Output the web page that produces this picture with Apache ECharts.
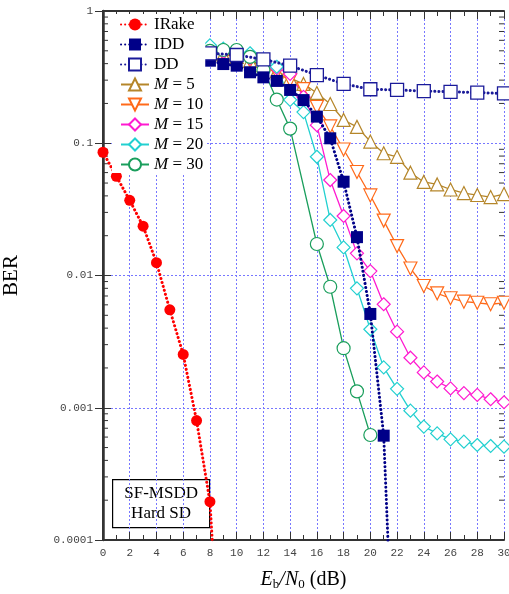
<!DOCTYPE html>
<html>
<head>
<meta charset="utf-8">
<script src="https://cdn.jsdelivr.net/npm/echarts@6/dist/echarts.min.js"></script>
<style>
  html, body { margin: 0; padding: 0; background: #fff; }
  #chart { width: 509px; height: 594px; }
</style>
</head>
<body>
<div id="chart"></div>
<script>
// values
const seriesNames = ['IRake', 'IDD', 'DD', 'M = 5', 'M = 10', 'M = 15', 'M = 20', 'M = 30'];

const xIRake = [0, 1, 2, 3, 4, 5, 6, 7, 8, 9];
const berIRake = [0.0855, 0.0562, 0.037, 0.0236, 0.0125, 0.0055, 0.00253, 0.0008, 0.000195, 0.000004];

const xIDD = [8, 9, 10, 11, 12, 13, 14, 15, 16, 17, 18, 19, 20, 21, 22];
const berIDD = [0.421, 0.397, 0.386, 0.344, 0.315, 0.296, 0.253, 0.212, 0.159, 0.109, 0.0512, 0.0195, 0.00512, 0.000615, 0.000002];

const xDD = [8, 10, 12, 14, 16, 18, 20, 22, 24, 26, 28, 30];
const berDD = [0.479, 0.465, 0.431, 0.386, 0.328, 0.281, 0.256, 0.253, 0.248, 0.245, 0.2415, 0.238];

const xM = [8, 9, 10, 11, 12, 13, 14, 15, 16, 17, 18, 19, 20, 21, 22, 23, 24, 25, 26, 27, 28, 29, 30];
const berM5 = [0.48, 0.47, 0.45, 0.42, 0.39, 0.35, 0.311, 0.281, 0.24, 0.198, 0.15, 0.133, 0.103, 0.084, 0.079, 0.0599, 0.051, 0.0488, 0.0447, 0.042, 0.0406, 0.0392, 0.0413];
const berM10 = [0.48, 0.47, 0.45, 0.42, 0.38, 0.34, 0.30, 0.257, 0.188, 0.134, 0.0897, 0.0606, 0.0403, 0.026, 0.0167, 0.0113, 0.00833, 0.00733, 0.00673, 0.00634, 0.00622, 0.00606, 0.00622];
const berM15 = [0.5, 0.49, 0.47, 0.44, 0.41, 0.37, 0.334, 0.224, 0.137, 0.0527, 0.0282, 0.0147, 0.0108, 0.00606, 0.00376, 0.00239, 0.00185, 0.00158, 0.0014, 0.00129, 0.00125, 0.00116, 0.0011];
const berM20 = [0.55, 0.52, 0.49, 0.479, 0.43, 0.379, 0.213, 0.172, 0.079, 0.0263, 0.0163, 0.008, 0.00392, 0.00202, 0.00139, 0.00095, 0.00072, 0.00064, 0.000577, 0.000554, 0.000523, 0.000514, 0.000508];

const xM30 = [8, 9, 10, 11, 12, 13, 14, 16, 17, 18, 19, 20];
const berM30 = [0.5, 0.507, 0.507, 0.45, 0.358, 0.214, 0.129, 0.0173, 0.00822, 0.00282, 0.00133, 0.000622];

const yTickLabels = ['0.0001', '0.001', '0.01', '0.1', '1'];
const logMinorTicks = [];
[0.0001, 0.001, 0.01, 0.1].forEach(d => {
  for (let k = 2; k <= 9; k++) logMinorTicks.push(d * k);
});

const pairs = (xs, ys) => xs.map((x, i) => [x, ys[i]]);

const serif = 'Liberation Serif';
const mono = 'Liberation Mono';

const chart = echarts.init(document.getElementById('chart'));

function dottedSeries(name, data, color, symbol, hollow, size) {
  return {
    name: name,
    type: 'line',
    data: data,
    symbol: symbol,
    symbolSize: size,
    showAllSymbol: true,
    lineStyle: { color: color, width: 3, type: [0.1, 4], cap: 'round' },
    itemStyle: hollow
      ? { color: '#fff', borderColor: color, borderWidth: 1.3 }
      : { color: color, borderColor: color, borderWidth: 0 },
    z: 3
  };
}

function solidSeries(name, data, color, symbol, size, rotate) {
  return {
    name: name,
    type: 'line',
    data: data,
    symbol: symbol,
    symbolSize: size,
    symbolRotate: rotate || 0,
    showAllSymbol: true,
    lineStyle: { color: color, width: 1.3 },
    itemStyle: { color: '#fff', borderColor: color, borderWidth: 1.2 },
    z: 2
  };
}

const tickStyle = { color: '#333', width: 1 };

const option = {
  animation: false,
  backgroundColor: '#fff',
  grid: { left: 103, right: 5, top: 11, bottom: 54, containLabel: false, outerBoundsMode: 'none' },
  legend: {
    data: seriesNames,
    orient: 'vertical',
    left: 112,
    top: 14,
    padding: [2, 2, 0, 8],
    backgroundColor: '#fff',
    itemWidth: 28,
    itemHeight: 15,
    itemGap: 3,
    textStyle: {
      fontFamily: serif,
      fontSize: 17,
      color: '#000',
      rich: { i: { fontFamily: serif, fontSize: 17, fontStyle: 'italic', color: '#000' } }
    },
    formatter: name => name.charAt(0) === 'M' ? '{i|M}' + name.slice(1) : name,
    z: 10
  },
  xAxis: [
    {
      type: 'value',
      min: 0,
      max: 30,
      interval: 2,
      name: '{e|E}{s|b}{e|/N}{s|0}{t| (dB)}',
      nameLocation: 'middle',
      nameGap: 28,
      nameTextStyle: {
        rich: {
          e: { fontFamily: serif, fontSize: 20, fontStyle: 'italic', color: '#000' },
          s: { fontFamily: serif, fontSize: 13, color: '#000', padding: [10, 0, 0, 0] },
          t: { fontFamily: serif, fontSize: 20, color: '#000' }
        }
      },
      axisLine: { lineStyle: { color: '#333', width: 2 } },
      axisTick: { inside: true, length: 8, lineStyle: tickStyle },
      minorTick: { show: true, splitNumber: 2, length: 5, lineStyle: tickStyle },
      axisLabel: { fontFamily: mono, fontSize: 11, color: '#444', margin: 8 },
      splitLine: { show: true, lineStyle: { color: '#7777ff', width: 1, type: [2, 2] } }
    },
    {
      type: 'value',
      position: 'top',
      min: 0,
      max: 30,
      interval: 2,
      axisLine: { lineStyle: { color: '#333', width: 2 } },
      axisTick: { inside: true, length: 8, lineStyle: tickStyle },
      minorTick: { show: true, splitNumber: 2, length: 5, lineStyle: tickStyle },
      axisLabel: { show: false },
      splitLine: { show: false }
    }
  ],
  yAxis: [
    {
      type: 'log',
      logBase: 10,
      min: 0.0001,
      max: 1,
      name: 'BER',
      nameLocation: 'middle',
      nameGap: 81,
      nameTextStyle: { fontFamily: serif, fontSize: 21, color: '#000' },
      axisLine: { lineStyle: { color: '#333', width: 2.5 } },
      axisTick: { inside: true, length: 8, lineStyle: tickStyle },
      axisLabel: {
        fontFamily: mono,
        fontSize: 11,
        color: '#444',
        margin: 10,
        formatter: (v, i) => yTickLabels[i]
      },
      splitLine: { show: true, lineStyle: { color: '#7777ff', width: 1, type: [2, 2] } }
    },
    {
      type: 'log',
      logBase: 10,
      position: 'right',
      min: 0.0001,
      max: 1,
      axisLine: { lineStyle: { color: '#333', width: 2 } },
      axisTick: { inside: true, length: 8, lineStyle: tickStyle },
      axisLabel: { show: false },
      splitLine: { show: false }
    }
  ],
  graphic: [
    {
      type: 'group',
      left: 112,
      top: 479,
      z: 100,
      children: [
        {
          type: 'rect',
          shape: { x: 0, y: 0, width: 97, height: 48 },
          style: { fill: '#fff', stroke: '#000', lineWidth: 1.2 }
        },
        {
          type: 'text',
          x: 48.5,
          y: 24,
          style: {
            text: 'SF-MSDD\nHard SD',
            fontFamily: serif,
            fontSize: 17,
            lineHeight: 20,
            fill: '#000',
            align: 'center',
            verticalAlign: 'middle'
          }
        }
      ]
    }
  ],
  series: [
    {
      name: 'minor',
      type: 'custom',
      silent: true,
      data: logMinorTicks.map(v => [0, v]),
      renderItem: (params, api) => {
        const v = api.value(1);
        const l = api.coord([0, v]);
        const r = api.coord([30, v]);
        return {
          type: 'group',
          children: [
            { type: 'line', shape: { x1: l[0], y1: l[1], x2: l[0] + 5, y2: l[1] }, style: { stroke: '#333', lineWidth: 1 } },
            { type: 'line', shape: { x1: r[0], y1: r[1], x2: r[0] - 5, y2: r[1] }, style: { stroke: '#333', lineWidth: 1 } }
          ]
        };
      },
      z: 1
    },
    dottedSeries('IRake', pairs(xIRake, berIRake), '#ff0000', 'circle', false, 11),
    dottedSeries('IDD', pairs(xIDD, berIDD), '#000088', 'rect', false, 12),
    dottedSeries('DD', pairs(xDD, berDD), '#1a1a99', 'rect', true, 13),
    solidSeries('M = 5', pairs(xM, berM5), '#b5862a', 'triangle', 13),
    solidSeries('M = 10', pairs(xM, berM10), '#ff6a1a', 'triangle', 13, 180),
    solidSeries('M = 15', pairs(xM, berM15), '#ff1ad0', 'diamond', 13),
    solidSeries('M = 20', pairs(xM, berM20), '#22d0d0', 'diamond', 13),
    solidSeries('M = 30', pairs(xM30, berM30), '#1a9e5c', 'circle', 13)
  ]
};

chart.setOption(option);
</script>
</body>
</html>
